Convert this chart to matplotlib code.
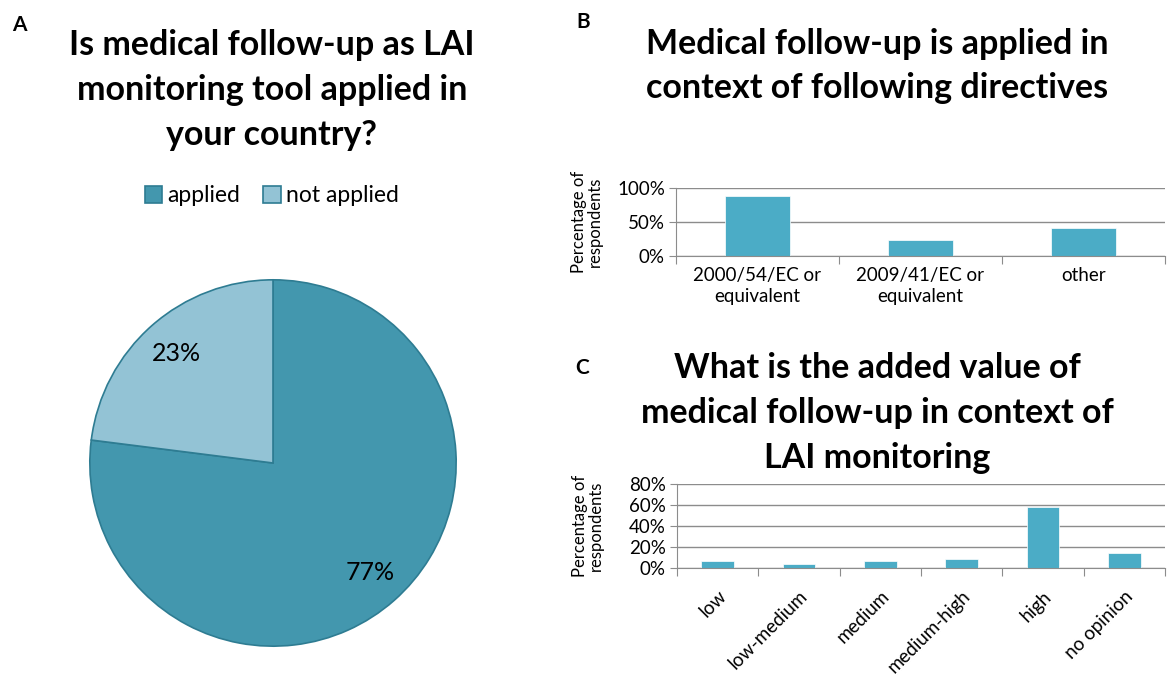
import numpy as np
import matplotlib
matplotlib.use('Agg')
import matplotlib.pyplot as plt
from matplotlib.ticker import FixedLocator, PercentFormatter

plt.rcParams['font.family'] = ['Lato', 'DejaVu Sans']

# A: pie
pie_labels = ['applied', 'not applied']
pie_values = [77, 23]

# B: directives
dir_labels = ['2000/54/EC or\nequivalent', '2009/41/EC or\nequivalent', 'other']
dir_values = [88, 24, 41]

# C: added value
val_labels = ['low', 'low-medium', 'medium', 'medium-high', 'high', 'no opinion']
val_values = [7, 4, 7, 9, 58, 14]

W, H = 1170, 675
fig = plt.figure(figsize=(W / 100, H / 100), dpi=100)

def box(x0, y0, x1, y1):
    # pixel box -> figure fraction
    return [x0 / W, 1 - y1 / H, (x1 - x0) / W, (y1 - y0) / H]

bar_col = '#4BACC6'
grid_col = '#8C8C8C'
title_kw = dict(ha='center', va='center', fontsize=24.5, fontweight='bold',
                linespacing=1.5)

# ---------- A ----------
ax = fig.add_axes(box(88, 278, 458, 648))
wedges, _ = ax.pie(pie_values, colors=['#4397AE', '#93C3D5'], startangle=90,
                   counterclock=False, radius=1,
                   wedgeprops=dict(edgecolor='#2E7C92', linewidth=1.2))
for w, v in zip(wedges, pie_values):
    ang = np.deg2rad((w.theta1 + w.theta2) / 2)
    ax.text(0.8 * np.cos(ang), 0.8 * np.sin(ang), '%d%%' % v,
            ha='center', va='center', fontsize=18)
ax.set_xlim(-1.01, 1.01)
ax.set_ylim(-1.01, 1.01)
fig.legend(wedges, pie_labels, loc='center', bbox_to_anchor=(272 / W, 1 - 196 / H),
           ncol=2, frameon=False, fontsize=16.5, handlelength=0.75, handleheight=0.75,
           handletextpad=0.25, columnspacing=1.0)
fig.text(12 / W, 1 - 25 / H, 'A', fontsize=15, fontweight='bold', va='center')
fig.text(272 / W, 1 - 90 / H,
         'Is medical follow-up as LAI\nmonitoring tool applied in\nyour country?',
         **title_kw)


def style_bar(ax, n, ymax, step, labels, rot):
    ax.set_xlim(-0.5, n - 0.5)
    ax.set_ylim(0, ymax)
    ax.set_yticks(np.arange(0, ymax + 1, step))
    ax.yaxis.set_major_formatter(PercentFormatter(decimals=0))
    ax.grid(axis='y', color=grid_col, linewidth=1)
    ax.set_axisbelow(True)
    for s in ['top', 'right']:
        ax.spines[s].set_visible(False)
    for s in ['left', 'bottom']:
        ax.spines[s].set_color(grid_col)
    ax.xaxis.set_major_locator(FixedLocator(np.arange(-0.5, n, 1)))
    ax.xaxis.set_minor_locator(FixedLocator(np.arange(n)))
    ax.set_xticklabels([])
    if rot:
        ax.set_xticklabels(labels, minor=True, rotation=45, ha='right',
                           rotation_mode='anchor', fontsize=13.5)
    else:
        ax.set_xticklabels(labels, minor=True, fontsize=13.5, linespacing=1.3)
    ax.tick_params(axis='x', which='major', length=6, color=grid_col)
    ax.tick_params(axis='x', which='minor', length=0, pad=8)
    ax.tick_params(axis='y', length=5, color=grid_col, labelsize=13.5, pad=3)
    ax.set_ylabel('Percentage of\nrespondents', fontsize=12, linespacing=1.0)
    ax.yaxis.set_label_coords(-0.15, 0.5)


# ---------- B ----------
ax = fig.add_axes(box(676, 188, 1165, 256))
ax.bar(np.arange(len(dir_values)), dir_values, width=0.4, color=bar_col,
       edgecolor='white', linewidth=0.5)
style_bar(ax, len(dir_values), 100, 50, dir_labels, False)
fig.text(576 / W, 1 - 22 / H, 'B', fontsize=15, fontweight='bold', va='center')
fig.text(877 / W, 1 - 66 / H,
         'Medical follow-up is applied in\ncontext of following directives',
         **title_kw)

# ---------- C ----------
ax = fig.add_axes(box(677, 484, 1165, 568))
ax.bar(np.arange(len(val_values)), val_values, width=0.4, color=bar_col,
       edgecolor='white', linewidth=0.5)
style_bar(ax, len(val_values), 80, 20, val_labels, True)
ax.tick_params(axis='x', which='minor', pad=14)
fig.text(575 / W, 1 - 368 / H, 'C', fontsize=15, fontweight='bold', va='center')
fig.text(877 / W, 1 - 413 / H,
         'What is the added value of\nmedical follow-up in context of\nLAI monitoring',
         **title_kw)

fig.savefig('out.png', dpi=100)
